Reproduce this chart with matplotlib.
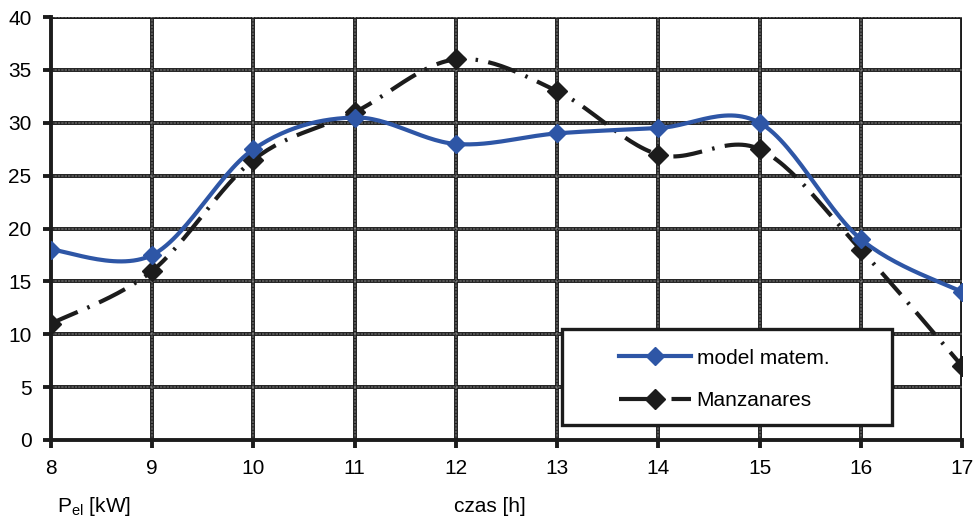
import numpy as np
import matplotlib.pyplot as plt
from matplotlib.patches import Rectangle

plt.rcParams['font.family'] = ['Liberation Sans', 'DejaVu Sans']

# godziny i wartosci mocy
hours = [8, 9, 10, 11, 12, 13, 14, 15, 16, 17]
model = [18, 17.5, 27.5, 30.5, 28, 29, 29.5, 30, 19, 14]
manz = [11, 16, 26.5, 31, 36, 33, 27, 27.5, 18, 7]
yticks = [0, 5, 10, 15, 20, 25, 30, 35, 40]


def smooth(x, y, n=30):
    # wygladzenie jak w Excelu (Catmull-Rom)
    x = np.asarray(x, float)
    y = np.asarray(y, float)
    px = np.concatenate([[x[0]], x, [x[-1]]])
    py = np.concatenate([[y[0]], y, [y[-1]]])
    xs, ys = [], []
    t = np.linspace(0, 1, n)
    for i in range(1, len(px) - 2):
        p0, p1, p2, p3 = [np.array([px[j], py[j]]) for j in (i - 1, i, i + 1, i + 2)]
        c1 = p1 + (p2 - p0) / 6
        c2 = p2 - (p3 - p1) / 6
        b = ((1 - t) ** 3)[:, None] * p1 + (3 * (1 - t) ** 2 * t)[:, None] * c1 \
            + (3 * (1 - t) * t ** 2)[:, None] * c2 + (t ** 3)[:, None] * p2
        xs.extend(b[:, 0])
        ys.extend(b[:, 1])
    return np.array(xs), np.array(ys)


fig = plt.figure(figsize=(9.74, 5.18), dpi=100)
ax = fig.add_axes([0.0524, 0.1506, 0.9353, 0.8164])

ax.set_xlim(8, 17)
ax.set_ylim(0, 40)
ax.set_xticks(hours)
ax.set_yticks(yticks)

dark = '#1c1c1c'
#siatka
for v in yticks[1:]:
    ax.axhline(v, color=dark, lw=2.8, zorder=1)
    ax.axhline(v, color='white', lw=0.35, ls=(0, (5, 2)), zorder=1.1)
for h in hours[1:-1]:
    ax.axvline(h, color=dark, lw=2.8, zorder=1)
    ax.axvline(h, color='white', lw=0.35, ls=(0, (5, 2)), zorder=1.1)

blue = '#2E56A6'
dash = (0, (7, 2.5, 0.6, 2.5))

sx, sy = smooth(hours, model)
ax.plot(sx, sy, color=blue, lw=3, zorder=3)
ax.plot(hours, model, ls='none', marker='D', ms=9.5, color=blue, zorder=4)
ax.plot([], [], color=blue, lw=3, marker='D', ms=9.5, label='model matem.')

sx, sy = smooth(hours, manz)
ax.plot(sx, sy, color=dark, lw=3, ls=dash, zorder=2)
ax.plot(hours, manz, ls='none', marker='D', ms=10, color=dark, zorder=2.5)
ax.plot([], [], color=dark, lw=3, ls=dash, marker='D', ms=10, label='Manzanares')

for s in ax.spines.values():
    s.set_linewidth(2.8)
    s.set_color(dark)
ax.spines['top'].set_visible(False)
ax.spines['right'].set_visible(False)
ax.axhline(40, color=dark, lw=2.8, zorder=1)
ax.axvline(17, color=dark, lw=2.8, zorder=1)

ax.tick_params(direction='out', length=6, width=2.8, color=dark,
               labelsize=15, pad=8)

# ramka legendy
ax.add_patch(Rectangle((0.561, 0.0355), 0.362, 0.2265, transform=ax.transAxes,
                       facecolor='white', edgecolor=dark, lw=2.4, zorder=5))
leg = ax.legend(loc='center left', bbox_to_anchor=(0.623, 0.143), fontsize=15,
                frameon=False, handlelength=3.5, borderpad=0, labelspacing=1.15,
                handletextpad=0.25, borderaxespad=0)
leg.set_zorder(6)

fig.text(0.059, 0.012, r'P$_{\mathregular{el}}$ [kW]', fontsize=15, va='baseline')
fig.text(0.503, 0.012, 'czas [h]', fontsize=15, ha='center', va='baseline')

plt.savefig('out.png', dpi=100)
